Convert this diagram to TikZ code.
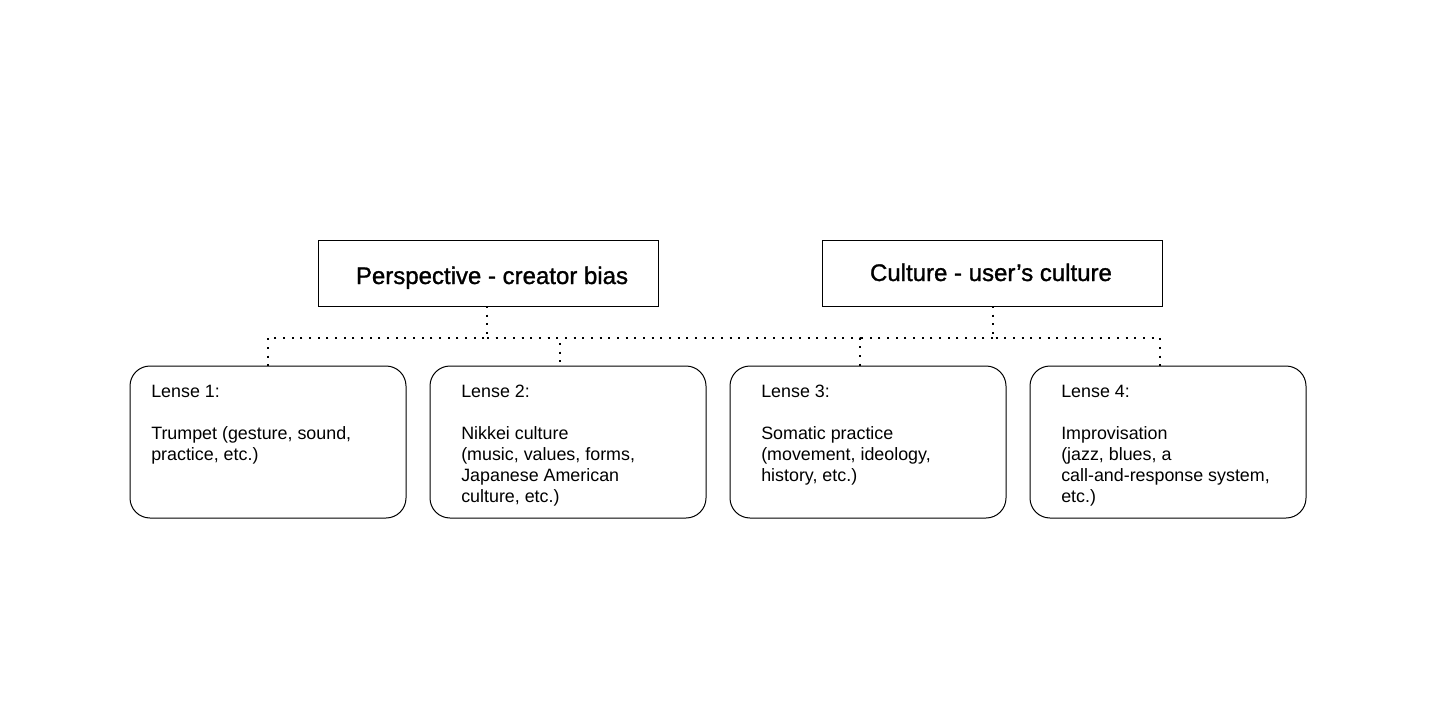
\documentclass[tikz,border=0pt]{standalone}
\usepackage{fontspec}
\setmainfont{Liberation Sans}
\newfontfamily\titlefont[FakeBold=1.2]{Liberation Sans}
\begin{document}
\begin{tikzpicture}[x=0.75pt,y=-0.75pt,
  topbox/.style={draw,line width=0.75pt,minimum width=255pt,minimum height=49.5pt,inner sep=0pt},
  lensebox/.style={draw,line width=0.75pt,rounded corners=15pt,minimum width=207pt,minimum height=114pt,inner sep=0pt},
  lensetext/.style={anchor=north west,align=left,inner sep=0pt,font=\fontsize{13.4pt}{15.75pt}\selectfont},
  titletext/.style={inner sep=0pt,anchor=base,font=\titlefont\fontsize{18pt}{21pt}\selectfont},
  dotline/.style={line width=1.4pt,dash pattern=on 1.5pt off 5pt}]
\useasboundingbox (0,0) rectangle (1440,721);
\fill[white] (0,0) rectangle (1440,721);
% top boxes
\node[topbox] (P) at (488,273) {};
\node[topbox] (C) at (992,273) {};
\node[titletext] (Pt) at (492,284) {Perspective - creator bias};
\node[titletext] (Ct) at (991,281) {Culture - user’s culture};
% lense boxes
\node[lensebox] (L1) at (268,442) {};
\node[lensebox] (L2) at (568,442) {};
\node[lensebox] (L3) at (868,442) {};
\node[lensebox] (L4) at (1168,442) {};
\node[lensetext] (L1t) at (151,385) {Lense 1:\\[15.75pt]Trumpet (gesture, sound,\\practice, etc.)};
\node[lensetext] (L2t) at (461,385) {Lense 2:\\[15.75pt]Nikkei culture\\(music, values, forms,\\Japanese American\\culture, etc.)};
\node[lensetext] (L3t) at (761,385) {Lense 3:\\[15.75pt]Somatic practice\\(movement, ideology,\\history, etc.)};
\node[lensetext] (L4t) at (1061,385) {Lense 4:\\[15.75pt]Improvisation\\(jazz, blues, a\\call-and-response system,\\etc.)};
% connector points
\coordinate (Pb) at (487,306);
\coordinate (Cb) at (993,306);
\coordinate (J1) at (487,338);
\coordinate (J2) at (993,338);
\coordinate (H3) at (860,338);
\coordinate (T1) at (268,366);
\coordinate (T2) at (560,366);
\coordinate (T3) at (860,366);
\coordinate (T4) at (1160,366);
\draw[dotline] (Pb) -- (J1) -| (T1);
\draw[dotline] (J1) -| (T2);
\draw[dotline] (J1) -| (T3);
\draw[dotline] (Cb) -- (J2) -| (T4);
\draw[dotline] (J2) -- (H3);
\end{tikzpicture}
\end{document}
